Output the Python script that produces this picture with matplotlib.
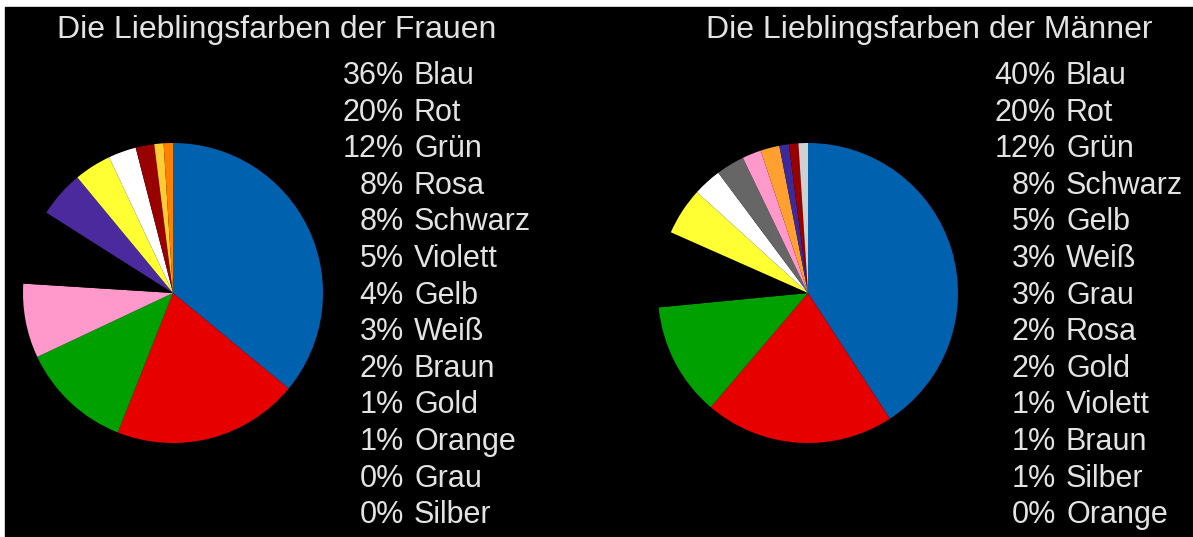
import matplotlib.pyplot as plt
from matplotlib.patches import Rectangle

plt.rcParams["font.family"] = ["Liberation Sans", "DejaVu Sans"]

# Favourite colours, in the order the slices run clockwise from 12 o'clock
women_names = ["Blau", "Rot", "Grün", "Rosa", "Schwarz", "Violett", "Gelb",
               "Weiß", "Braun", "Gold", "Orange", "Grau", "Silber"]
women_pct = [36, 20, 12, 8, 8, 5, 4, 3, 2, 1, 1, 0, 0]
women_colors = ["#0062AE", "#E60000", "#00A000", "#FF99CC", "#000000", "#4A2A9C",
                "#FFFF33", "#FFFFFF", "#990000", "#FFCC33", "#FF8000", "#666666",
                "#C0C0C0"]

men_names = ["Blau", "Rot", "Grün", "Schwarz", "Gelb", "Weiß", "Grau",
             "Rosa", "Gold", "Violett", "Braun", "Silber", "Orange"]
men_pct = [40, 20, 12, 8, 5, 3, 3, 2, 2, 1, 1, 1, 0]
men_colors = ["#0062AE", "#E60000", "#00A000", "#000000", "#FFFF33", "#FFFFFF",
              "#666666", "#FF99CC", "#FFA030", "#3C2A9A", "#990000", "#D0D0D0",
              "#FF8000"]

W, H = 1193, 537
TEXT = "#E3E3E3"
FS = 22
TITLE_FS = 23


def y(px):
    # pixel rows are counted from the top
    return H - px


fig = plt.figure(figsize=(W / 100, H / 100), dpi=100, facecolor="white")
ax = fig.add_axes([0, 0, 1, 1])
ax.add_patch(Rectangle((5, 0), W - 5, H - 7, color="black", zorder=0))

panels = [
    ("Die Lieblingsfarben der Frauen", women_names, women_pct, women_colors,
     (173, 293), 277, 404),
    ("Die Lieblingsfarben der Männer", men_names, men_pct, men_colors,
     (808, 293), 929, 1056),
]

for title, names, pct, colors, (cx, cy), title_x, pct_x in panels:
    ax.pie(pct, colors=colors, center=(cx, y(cy)), radius=150, startangle=90,
           counterclock=False, wedgeprops=dict(linewidth=0), frame=True)
    ax.text(title_x, y(38), title, color=TEXT, fontsize=TITLE_FS, ha="center",
            va="baseline")
    for i, (name, p) in enumerate(zip(names, pct)):
        base = y(84 + 36.6 * i)
        ax.text(pct_x, base, f"{p}%", color=TEXT, fontsize=FS, ha="right",
                va="baseline")
        ax.text(pct_x + 10, base, name, color=TEXT, fontsize=FS, ha="left",
                va="baseline")

ax.set_xlim(0, W)
ax.set_ylim(0, H)
ax.set_aspect("auto")
ax.axis("off")

fig.savefig("out.png", dpi=100, facecolor="white")
